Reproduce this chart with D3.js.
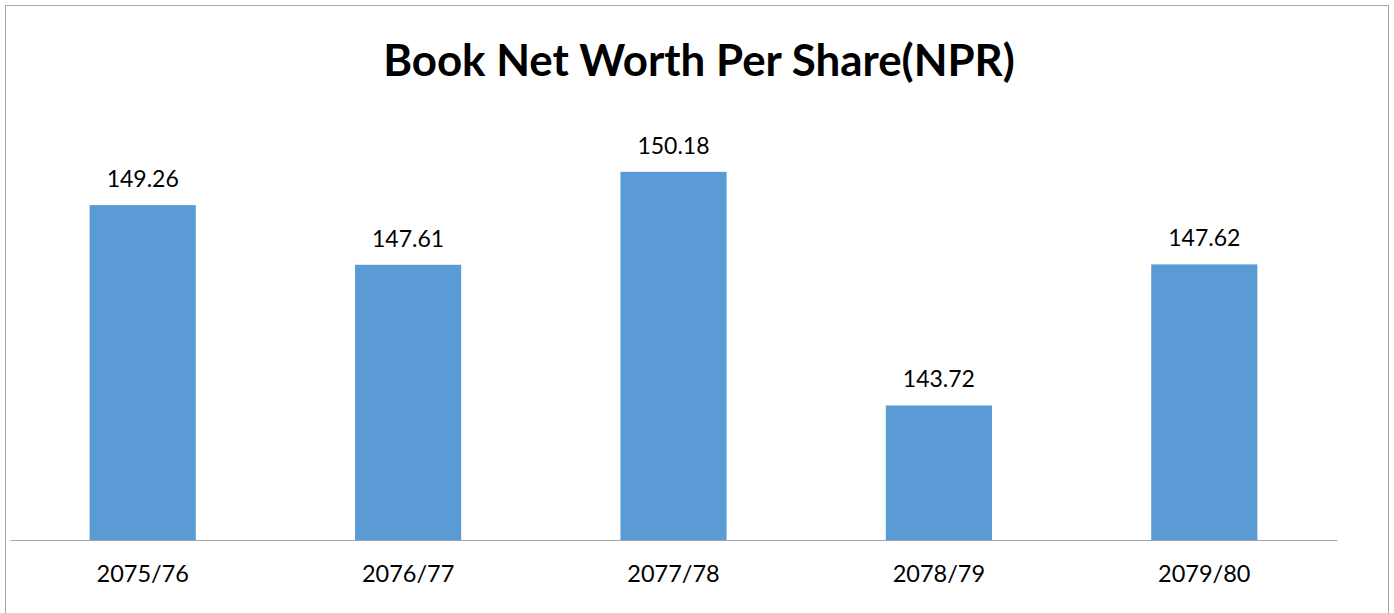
<!DOCTYPE html>
<html>
<head>
<meta charset="utf-8">
<script src="https://cdn.jsdelivr.net/npm/d3@7"></script>
<style>
  html, body { margin: 0; padding: 0; background: #fff; }
  svg { display: block; font-family: Lato, "Open Sans", sans-serif; }
</style>
</head>
<body>
<div id="chart"></div>
<script>
// data
const years = ['2075/76', '2076/77', '2077/78', '2078/79', '2079/80'];
const netWorth = [149.26, 147.61, 150.18, 143.72, 147.62];
const chartTitle = 'Book Net Worth Per Share(NPR)';

const W = 1394, H = 613;
const plot = { left: 10, right: 1337, top: 106, bottom: 540 };

const svg = d3.select('#chart').append('svg')
  .attr('width', W).attr('height', H);

// outer frame
svg.append('rect')
  .attr('x', 5.5).attr('y', 5.5)
  .attr('width', 1383).attr('height', 640)
  .attr('fill', '#fff').attr('stroke', '#a6a6a6').attr('stroke-width', 1);

const x = d3.scaleBand().domain(years).range([plot.left, plot.right]).padding(0);
const y = d3.scaleLinear().domain([140, 152]).range([plot.bottom, plot.top]);

const bw = x.bandwidth() * 0.4;
const rows = years.map((k, i) => ({ k, v: netWorth[i] }));

svg.selectAll('.bar')
  .data(rows)
  .join('rect')
  .attr('class', 'bar')
  .attr('x', d => x(d.k) + (x.bandwidth() - bw) / 2)
  .attr('y', d => y(d.v))
  .attr('width', bw)
  .attr('height', d => y(140) - y(d.v))
  .attr('fill', '#5b9bd5');

// value labels
svg.selectAll('.val')
  .data(rows)
  .join('text')
  .attr('class', 'val')
  .attr('x', d => x(d.k) + x.bandwidth() / 2)
  .attr('y', d => y(d.v) - 18)
  .attr('text-anchor', 'middle')
  .attr('font-size', 23)
  .attr('fill', '#000')
  .text(d => d.v.toFixed(2));

// x axis
const ax = svg.append('g')
  .attr('transform', `translate(0,${plot.bottom})`)
  .call(d3.axisBottom(x).tickSize(0).tickPadding(25));
ax.select('.domain').attr('stroke', '#a6a6a6').attr('stroke-width', 1.2);
ax.selectAll('text')
  .attr('font-size', 23.5)
  .attr('font-family', 'Lato, "Open Sans", sans-serif')
  .attr('fill', '#000')
  .attr('dy', '0.71em');

// title
const t = svg.append('text')
  .attr('x', 699).attr('y', 76)
  .attr('text-anchor', 'middle')
  .attr('font-weight', 'bold')
  .attr('font-size', 40)
  .attr('fill', '#000')
  .text(chartTitle);
const tw = t.node().getComputedTextLength();
t.attr('font-size', 40 * 632 / tw);
</script>
</body>
</html>
